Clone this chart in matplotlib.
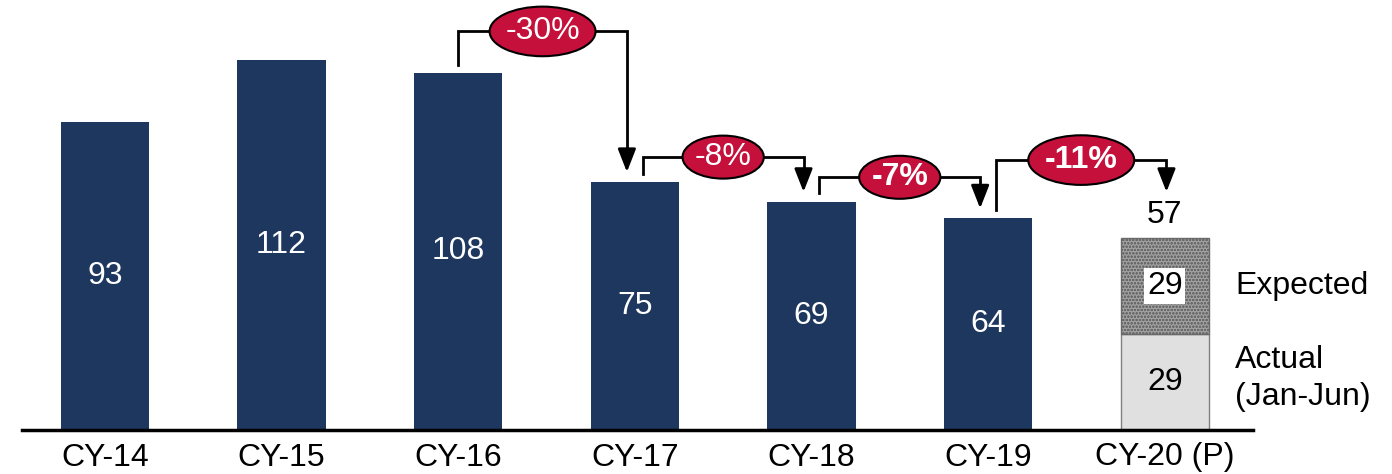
import matplotlib.pyplot as plt
from matplotlib.patches import Ellipse

plt.rcParams['font.family'] = ['Liberation Sans', 'DejaVu Sans']
plt.rcParams['hatch.color'] = '#3a3a3a'
plt.rcParams['hatch.linewidth'] = 0.6

# data
years = ["CY-14", "CY-15", "CY-16", "CY-17", "CY-18", "CY-19", "CY-20 (P)"]
values = [93, 112, 108, 75, 69, 64]
actual_20 = 29
expected_20 = 29
total_20 = 57
changes = ["-30%", "-8%", "-7%", "-11%"]
change_bold = [False, False, True, True]
# bracket levels (same units as values)
levels = [120.5, 82.5, 76.4, 81.6]

navy = "#1d375e"
red = "#c5103b"
fs = 23

fig = plt.figure(figsize=(13.92, 4.74), dpi=100)
ax = fig.add_axes([22 / 1392, 44 / 474, 1231 / 1392, 430 / 474])
ax.set_xlim(-0.47, 6.5)
ax.set_ylim(0, 130)

x = list(range(len(years)))
ax.bar(x[:6], values, width=0.5, color=navy, zorder=2)
for xi, v in zip(x, values):
    ax.text(xi, v / 2, str(v), ha="center", va="center", color="white", fontsize=fs)

# CY-20 stacked
ax.bar(x[6], actual_20, width=0.5, color="#e0e0e0", edgecolor="#808080", lw=1, zorder=2)
ax.bar(x[6], expected_20, bottom=actual_20, width=0.5, color="#a0a0a0",
       edgecolor="#6a6a6a", hatch="ooooo", lw=1, zorder=2)
ax.text(x[6], actual_20 / 2, str(actual_20), ha="center", va="center", fontsize=fs)
ax.text(x[6], actual_20 + expected_20 / 2, str(expected_20), ha="center", va="center",
        fontsize=fs, bbox=dict(facecolor="white", edgecolor="none", pad=2))
ax.text(x[6], total_20 + 3.5, str(total_20), ha="center", va="bottom", fontsize=fs)
ax.text(6.4, actual_20 + expected_20 / 2, "Expected", ha="left", va="center", fontsize=fs)
ax.text(6.4, 15.7, "Actual\n(Jan-Jun)", ha="left", va="center",
        fontsize=fs, linespacing=1.3)

# change brackets
tops = values + [total_20]
starts = [2, 3, 4, 5]
for i, s in enumerate(starts):
    xl = s + (0.0 if i == 0 else 0.045)
    xr = s + 1 - (0.045 if s + 1 < 6 else -0.01)
    lvl = levels[i]
    y0 = tops[s] + 2.5
    tip = tops[s + 1] + 3 if s + 1 < 6 else 72
    ax.plot([xl, xl, xr, xr], [y0, lvl, lvl, tip + 4], color="black", lw=2, zorder=3,
            solid_joinstyle="miter")
    ax.annotate("", xy=(xr, tip), xytext=(xr, tip + 5),
                arrowprops=dict(arrowstyle="-|>,head_width=0.55,head_length=1.4",
                                color="black", lw=2, shrinkA=0, shrinkB=0), zorder=3)
    xm = (xl + xr) / 2
    w = 0.6 if len(changes[i]) > 3 else 0.46
    h = 15 if len(changes[i]) > 3 else 13
    ax.add_patch(Ellipse((xm, lvl), w, h, facecolor=red, edgecolor="black", lw=1.5, zorder=4))
    ax.text(xm, lvl, changes[i], ha="center", va="center", color="white", fontsize=fs,
            fontweight="bold" if change_bold[i] else "normal", zorder=5)

ax.set_xticks(x)
ax.set_xticklabels(years, fontsize=fs)
ax.tick_params(axis="x", length=0, pad=9)
ax.set_yticks([])
for sp in ["top", "right", "left"]:
    ax.spines[sp].set_visible(False)
ax.spines["bottom"].set_linewidth(2.5)

fig.savefig("out.png", dpi=100)
